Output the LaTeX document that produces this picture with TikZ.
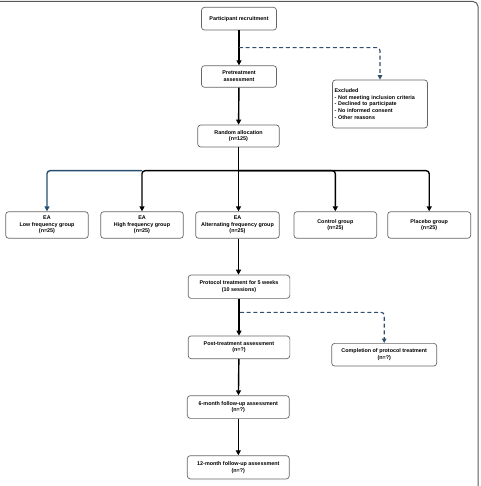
\documentclass[tikz,border=0pt]{standalone}
\usepackage{fontspec}
\setmainfont{Liberation Sans}
\usepackage{tikz}
\usetikzlibrary{arrows.meta}
\definecolor{dashblue}{RGB}{50,78,108}
\definecolor{lineblue}{RGB}{38,78,112}

\begin{document}
\begin{tikzpicture}[x=1pt,y=-1pt,
    box/.style={draw=black!60,line width=0.7pt,rounded corners=3pt,fill=white,
      align=center,inner sep=1pt,font=\bfseries\fontsize{5.4}{6.7}\selectfont},
    arr/.style={line width=1.4pt,-{Triangle[length=5pt,width=5pt]},rounded corners=3pt},
    bluearr/.style={arr,color=lineblue},
    dasharr/.style={line width=1.1pt,color=dashblue,dash pattern=on 4pt off 2.7pt,
      -{Triangle[length=4.5pt,width=4.5pt]},rounded corners=3pt}]
    \useasboundingbox (0,0) rectangle (480,486);
    \draw[black!65,line width=1pt,rounded corners=5pt] (0,1.5) -- (478,1.5) -- (478,486);
    \node[box,minimum width=75pt,minimum height=22.7pt] (recruit) at (239,18.7) {Participant recruitment};
    \node[box,minimum width=75pt,minimum height=21.6pt] (pretreat) at (239,76.5) {Pretreatment\\assessment};
    \node[box,minimum width=95pt,minimum height=48pt,align=left,text width=91pt] (excluded) at (380,104)
      {Excluded\\- Not meeting inclusion criteria\\- Declined to participate\\- No informed consent\\- Other reasons};
    \node[box,minimum width=81.6pt,minimum height=22pt] (random) at (238.5,136) {Random allocation\\(n=125)};
    \node[box,minimum width=82.6pt,minimum height=26.6pt] (low) at (47,225) {EA\\Low frequency group\\(n=25)};
    \node[box,minimum width=82.6pt,minimum height=26.6pt] (high) at (142,225) {EA\\High frequency group\\(n=25)};
    \node[box,minimum width=83.6pt,minimum height=26.6pt] (alt) at (237.5,225) {EA\\Alternating frequency group\\(n=25)};
    \node[box,minimum width=82.7pt,minimum height=26.6pt] (control) at (335.3,225) {Control group\\(n=25)};
    \node[box,minimum width=83pt,minimum height=26.6pt] (placebo) at (429.2,225) {Placebo group\\(n=25)};
    \node[box,minimum width=101.7pt,minimum height=23.3pt] (protocol) at (239,286.7) {Protocol treatment for 5 weeks\\(10 sessions)};
    \node[box,minimum width=101.7pt,minimum height=22.7pt] (post) at (239,347.3) {Post-treatment assessment\\(n=?)};
    \node[box,minimum width=105pt,minimum height=22.7pt] (completion) at (384.2,354.7) {Completion of protocol treatment\\(n=?)};
    \node[box,minimum width=102pt,minimum height=22.7pt] (six) at (238.3,407) {6-month follow-up assessment\\(n=?)};
    \node[box,minimum width=102pt,minimum height=23.3pt] (twelve) at (238.3,467.3) {12-month follow-up assessment\\(n=?)};
    \coordinate (exsplit) at (239,47.7);
    \coordinate (split) at (238.5,170.7);
    \coordinate (postsplit) at (240,312.3);
    \draw[arr] (recruit) -- (pretreat);
    \draw[dasharr] (exsplit) -| (excluded.north);
    \draw[arr] (pretreat) -- (random);
    \draw[arr] (random.south) -- (split) -- (alt.north -| split);
    \draw[arr] (split) -| (high.north);
    \draw[bluearr] (split -| high.north) -| (low.north);
    \draw[arr] (split) -| (control.north);
    \draw[arr] (split) -| (placebo.north);
    \draw[arr] (alt.south -| split) -- (protocol.north -| split);
    \draw[arr] (protocol) -- (post);
    \draw[dasharr] (postsplit) -| (completion.north);
    \draw[arr] (post) -- (six);
    \draw[arr] (six) -- (twelve);
\end{tikzpicture}
\end{document}
